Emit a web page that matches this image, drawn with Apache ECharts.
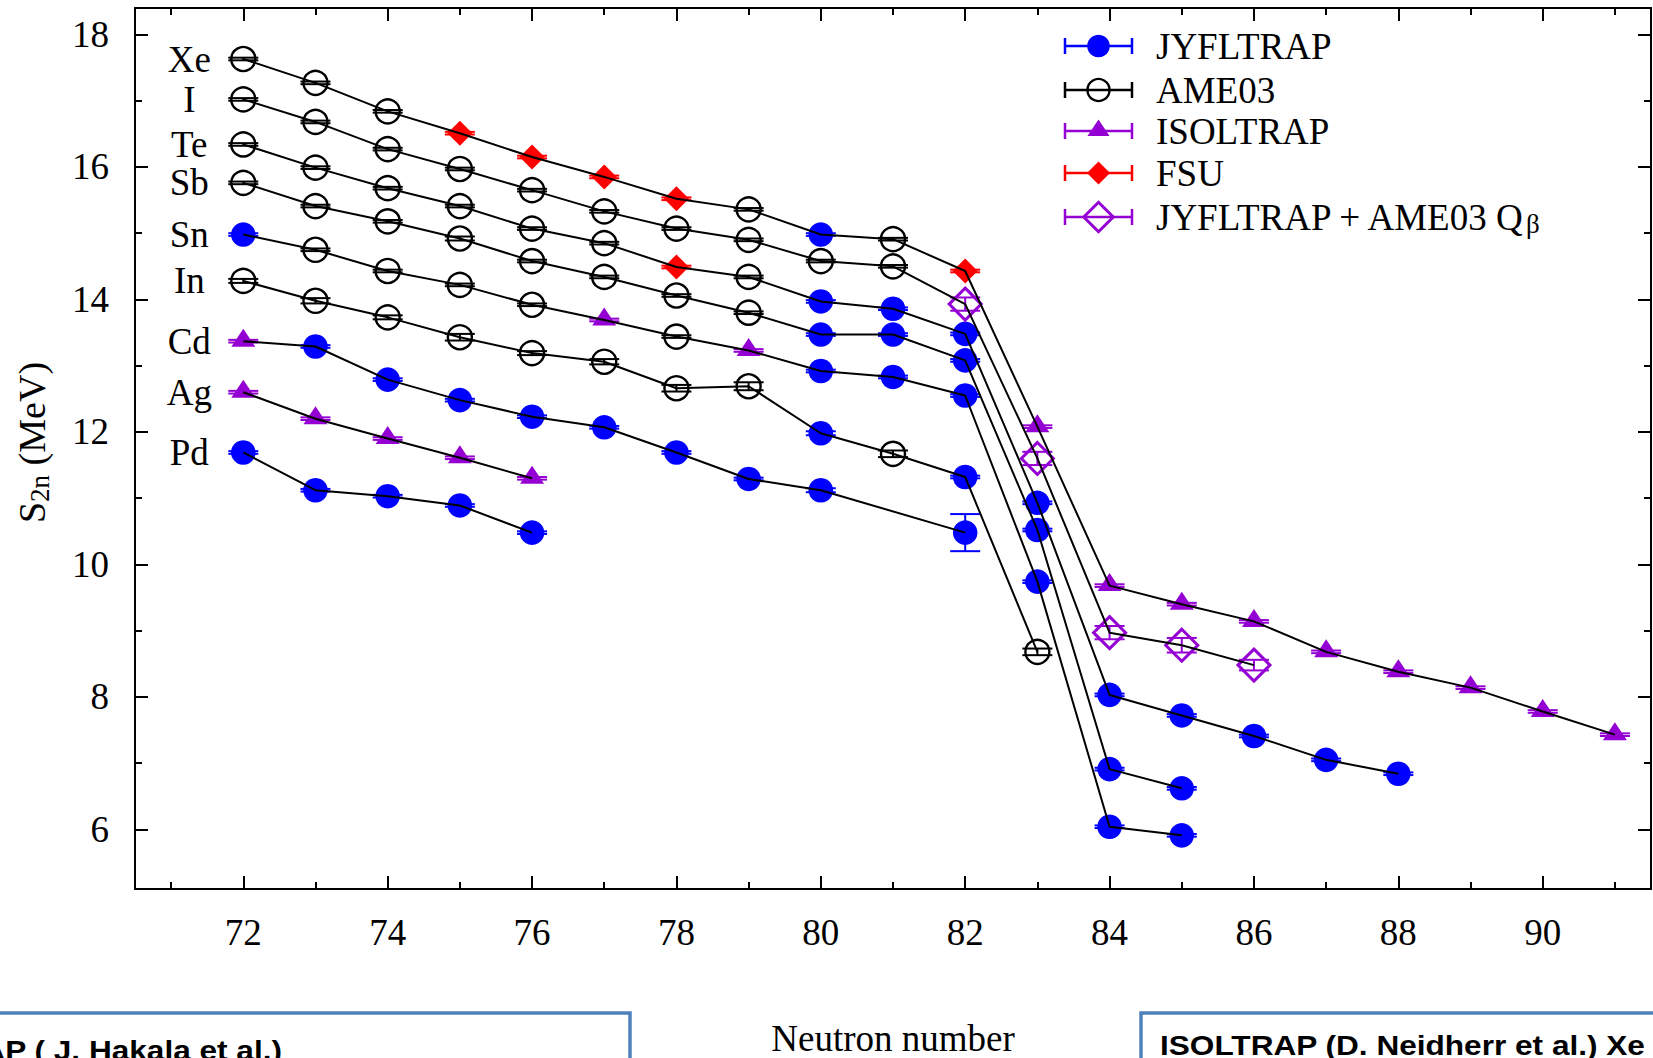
<!DOCTYPE html>
<html><head><meta charset="utf-8">
<script src="https://cdn.jsdelivr.net/npm/echarts@6/dist/echarts.min.js"></script>
<style>html,body{margin:0;padding:0;background:#fff;overflow:hidden}#c{width:1653px;height:1058px;}</style>
</head><body><div id="c"></div>
<script>
// ---- Data (S2n in MeV vs neutron number) ----
// source codes: J = JYFLTRAP, A = AME03, I = ISOLTRAP, F = FSU, Q = JYFLTRAP + AME03 Qβ
const elements = ['Xe','I','Te','Sb','Sn','In','Cd','Ag','Pd'];

const Xe_N   = [72,73,74,75,76,77,78,79,80,81,82,83,84,85,86,87,88,89,90,91];
const Xe_S2n = [17.63,17.27,16.84,16.51,16.15,15.85,15.52,15.36,14.98,14.91,14.43,12.08,9.68,9.40,9.14,8.68,8.38,8.14,7.78,7.43];
const Xe_err = [0.02,0.02,0.02,0.02,0.02,0.02,0.02,0.02,0.02,0.02,0.02,0.02,0.02,0.02,0.02,0.02,0.02,0.02,0.02,0.02];
const Xe_src = ['A','A','A','F','F','F','F','A','J','A','F','I','I','I','I','I','I','I','I','I'];

const I_N   = [72,73,74,75,76,77,78,79,80,81,82,83,84,85,86];
const I_S2n = [17.02,16.68,16.27,15.97,15.65,15.33,15.07,14.90,14.58,14.50,13.93,11.60,8.97,8.78,8.48];
const I_err = [0.02,0.02,0.02,0.02,0.02,0.02,0.02,0.02,0.02,0.02,0.10,0.10,0.10,0.11,0.08];
const I_src = ['A','A','A','A','A','A','A','A','A','A','Q','Q','Q','Q','Q'];

const Te_N   = [72,73,74,75,76,77,78,79,80,81,82,83,84,85,86,87,88];
const Te_S2n = [16.34,15.99,15.68,15.41,15.07,14.85,14.49,14.34,13.97,13.86,13.48,10.93,8.03,7.72,7.41,7.05,6.84];
const Te_err = [0.02,0.02,0.02,0.02,0.02,0.02,0.02,0.02,0.02,0.02,0.02,0.02,0.02,0.02,0.02,0.02,0.02];
const Te_src = ['A','A','A','A','A','A','F','A','J','J','J','J','J','J','J','J','J'];

const Sb_N   = [72,73,74,75,76,77,78,79,80,81,82,83,84,85];
const Sb_S2n = [15.76,15.41,15.18,14.92,14.58,14.34,14.06,13.80,13.47,13.47,13.08,10.52,6.91,6.62];
const Sb_err = [0.02,0.02,0.02,0.03,0.02,0.02,0.02,0.02,0.02,0.02,0.02,0.02,0.02,0.02];
const Sb_src = ['A','A','A','A','A','A','A','A','J','J','J','J','J','J'];

const Sn_N   = [72,73,74,75,76,77,78,79,80,81,82,83,84,85];
const Sn_S2n = [14.98,14.75,14.43,14.22,13.92,13.69,13.44,13.23,12.92,12.83,12.55,9.74,6.04,5.91];
const Sn_err = [0.02,0.02,0.02,0.02,0.02,0.02,0.02,0.02,0.02,0.02,0.02,0.02,0.02,0.02];
const Sn_src = ['J','A','A','A','A','I','A','I','J','J','J','J','J','J'];

const In_N   = [72,73,74,75,76,77,78,79,80,81,82,83];
const In_S2n = [14.28,13.98,13.73,13.43,13.19,13.06,12.66,12.69,11.98,11.67,11.32,8.68];
const In_err = [0.03,0.04,0.03,0.05,0.03,0.04,0.05,0.06,0.03,0.05,0.02,0.05];
const In_src = ['A','A','A','A','A','A','A','A','J','A','J','A'];

const Cd_N   = [72,73,74,75,76,77,78,79,80,82];
const Cd_S2n = [13.37,13.29,12.79,12.48,12.23,12.07,11.69,11.29,11.12,10.48];
const Cd_err = [0.02,0.02,0.02,0.02,0.02,0.02,0.02,0.02,0.03,0.28];
const Cd_src = ['I','J','J','J','J','J','J','J','J','J'];

const Ag_N   = [72,73,74,75,76];
const Ag_S2n = [12.60,12.20,11.90,11.61,11.30];
const Ag_err = [0.02,0.02,0.02,0.02,0.02];
const Ag_src = ['I','I','I','I','I'];

const Pd_N   = [72,73,74,75,76];
const Pd_S2n = [11.69,11.12,11.03,10.89,10.48];
const Pd_err = [0.02,0.02,0.02,0.02,0.02];
const Pd_src = ['J','J','J','J','J'];

const xTicksMajor = [72,74,76,78,80,82,84,86,88,90];
const xTicksMinor = [71,73,75,77,79,81,83,85,87,89,91];
const yTicksMajor = [6,8,10,12,14,16,18];
const yTicksMinor = [7,9,11,13,15,17];
const X_MIN = 70.5, X_MAX = 91.5, Y_MIN = 5.1, Y_MAX = 18.4;

const sources = ['J','A','I','F','Q'];
const sourceNames = {J:'JYFLTRAP', A:'AME03', I:'ISOLTRAP', F:'FSU', Q:'JYFLTRAP + AME03 Qβ'};
// ---- end data ----

const chains = [
  {name:'Xe', N:Xe_N, S:Xe_S2n, E:Xe_err, src:Xe_src},
  {name:'I',  N:I_N,  S:I_S2n,  E:I_err,  src:I_src},
  {name:'Te', N:Te_N, S:Te_S2n, E:Te_err, src:Te_src},
  {name:'Sb', N:Sb_N, S:Sb_S2n, E:Sb_err, src:Sb_src},
  {name:'Sn', N:Sn_N, S:Sn_S2n, E:Sn_err, src:Sn_src},
  {name:'In', N:In_N, S:In_S2n, E:In_err, src:In_src},
  {name:'Cd', N:Cd_N, S:Cd_S2n, E:Cd_err, src:Cd_src},
  {name:'Ag', N:Ag_N, S:Ag_S2n, E:Ag_err, src:Ag_src},
  {name:'Pd', N:Pd_N, S:Pd_S2n, E:Pd_err, src:Pd_src}
];

const FONT = 'Liberation Serif';
const FS = 37;
const COLORS = {J:'#0000ff', A:'#000000', I:'#9400d3', F:'#ff0000', Q:'#9400d3'};
const CAP = 15;

function markerEls(src, cx, cy, scale) {
  const s = scale || 1;
  const c = COLORS[src];
  if (src === 'J') return [{type:'circle', shape:{cx:cx, cy:cy, r:12.3*s}, style:{fill:c}}];
  if (src === 'A') return [{type:'circle', shape:{cx:cx, cy:cy, r:12*s}, style:{fill:'none', stroke:c, lineWidth:2.4}}];
  if (src === 'I') return [{type:'polygon', shape:{points:[[cx,cy-12.5*s],[cx-12*s,cy+5.5*s],[cx+12*s,cy+5.5*s]]}, style:{fill:c}}];
  if (src === 'F') return [{type:'polygon', shape:{points:[[cx,cy-12.5*s],[cx+12.5*s,cy],[cx,cy+12.5*s],[cx-12.5*s,cy]]}, style:{fill:c}}];
  return [{type:'polygon', shape:{points:[[cx,cy-16*s],[cx+16*s,cy],[cx,cy+16*s],[cx-16*s,cy]]}, style:{fill:'none', stroke:c, lineWidth:3}}];
}

function makeRender(src) {
  return function (params, api) {
    const x = api.value(0), y = api.value(1), e = api.value(2);
    const p = api.coord([x, y]);
    const pt = api.coord([x, y + e]);
    const pb = api.coord([x, y - e]);
    const c = COLORS[src];
    const ls = {stroke:c, lineWidth:2};
    const children = [
      {type:'line', shape:{x1:p[0], y1:pt[1], x2:p[0], y2:pb[1]}, style:ls},
      {type:'line', shape:{x1:p[0]-CAP, y1:pt[1], x2:p[0]+CAP, y2:pt[1]}, style:ls},
      {type:'line', shape:{x1:p[0]-CAP, y1:pb[1], x2:p[0]+CAP, y2:pb[1]}, style:ls}
    ].concat(markerEls(src, p[0], p[1]));
    return {type:'group', children:children};
  };
}

const series = [];
sources.forEach(function (src) {
  const data = [];
  chains.forEach(function (ch) {
    ch.N.forEach(function (n, i) { if (ch.src[i] === src) data.push([n, ch.S[i], ch.E[i]]); });
  });
  series.push({type:'custom', name:sourceNames[src], data:data, encode:{x:0, y:1},
    renderItem:makeRender(src), z:3, silent:true, clip:false});
});
chains.forEach(function (ch) {
  series.push({type:'line', name:ch.name, data:ch.N.map(function (n, i) { return [n, ch.S[i]]; }),
    symbol:'none', showSymbol:false, lineStyle:{color:'#000', width:2}, z:5, silent:true});
});
series.push({type:'custom', name:'labels', data:chains.map(function (ch) { return [ch.N[0], ch.S[0]]; }),
  encode:{x:0, y:1}, z:6, silent:true, clip:false,
  renderItem:function (params, api) {
    const p = api.coord([api.value(0), api.value(1)]);
    return {type:'text', x:p[0]-54, y:p[1], style:{text:elements[params.dataIndex], fontFamily:FONT, fontSize:FS,
      fill:'#000', align:'center', verticalAlign:'middle', textAlign:'center', textVerticalAlign:'middle'}};
  }});

function xAxisDef(pos, ticks, major, labels) {
  const a = {type:'value', min:X_MIN, max:X_MAX, position:pos, gridIndex:0,
    axisLine:{show:major, onZero:false, lineStyle:{color:'#000', width:2}},
    axisTick:{show:true, inside:true, length:major?13:7, customValues:ticks, lineStyle:{color:'#000', width:2}},
    axisLabel:{show:labels, customValues:ticks, margin:25, fontFamily:FONT, fontSize:FS, color:'#000'},
    splitLine:{show:false}, minorTick:{show:false}};
  if (labels) {
    a.name = 'Neutron number'; a.nameLocation = 'middle'; a.nameGap = 131;
    a.nameTextStyle = {fontFamily:FONT, fontSize:FS, color:'#000', lineHeight:37};
  }
  return a;
}
function yAxisDef(pos, ticks, major, labels) {
  const a = {type:'value', min:Y_MIN, max:Y_MAX, position:pos, gridIndex:0,
    axisLine:{show:major, onZero:false, lineStyle:{color:'#000', width:2}},
    axisTick:{show:true, inside:true, length:major?13:7, customValues:ticks, lineStyle:{color:'#000', width:2}},
    axisLabel:{show:labels, customValues:ticks, margin:26, fontFamily:FONT, fontSize:FS, color:'#000'},
    splitLine:{show:false}, minorTick:{show:false}};
  if (labels) {
    a.name = '{a|S}{s|2n}{a| (MeV)}'; a.nameLocation = 'middle'; a.nameGap = 82; a.nameRotate = 90;
    a.nameTextStyle = {fontFamily:FONT, fontSize:FS, color:'#000', padding:[0,0,0,12], rich:{
      a:{fontFamily:FONT, fontSize:38, color:'#000', lineHeight:42},
      s:{fontFamily:FONT, fontSize:27, color:'#000', lineHeight:27, verticalAlign:'bottom', padding:[22,0,0,0]}}};
  }
  return a;
}

// legend built from graphic elements
const legendY = [46, 90, 131, 173, 217];
const legendEls = [];
sources.forEach(function (src, i) {
  const y = legendY[i], c = COLORS[src], ls = {stroke:c, lineWidth:2.5};
  legendEls.push({type:'line', shape:{x1:1065, y1:y, x2:1132, y2:y}, style:ls});
  legendEls.push({type:'line', shape:{x1:1065, y1:y-8, x2:1065, y2:y+8}, style:ls});
  legendEls.push({type:'line', shape:{x1:1132, y1:y-8, x2:1132, y2:y+8}, style:ls});
  markerEls(src, 1098.5, y, 0.92).forEach(function (m) { legendEls.push(m); });
  const txt = src === 'Q' ? '{a|JYFLTRAP + AME03 Q}{s|β}' : '{a|' + sourceNames[src] + '}';
  legendEls.push({type:'text', x:1156, y:y, style:{text:txt, fill:'#000', align:'left', verticalAlign:'middle',
    rich:{a:{fontFamily:FONT, fontSize:FS, fill:'#000', lineHeight:41},
          s:{fontFamily:FONT, fontSize:27, fill:'#000', lineHeight:27, verticalAlign:'bottom', padding:[22,0,0,0]}}}});
});

// overlay note boxes at the bottom
const boxEls = [
  {type:'rect', shape:{x:-10, y:1013, width:640, height:80}, style:{fill:'#fff', stroke:'#4f81bd', lineWidth:3.5}},
  {type:'text', x:282, y:1050, scaleX:1.17, originX:0, originY:0,
    style:{text:'JYFLTRAP ( J. Hakala et al.)', fontFamily:'Liberation Sans', fontWeight:'bold', fontSize:27, fill:'#000',
      align:'right', verticalAlign:'middle'}},
  {type:'rect', shape:{x:1141, y:1013, width:530, height:80}, style:{fill:'#fff', stroke:'#4f81bd', lineWidth:3.5}},
  {type:'text', x:1160, y:1045, scaleX:1.17, originX:0, originY:0,
    style:{text:'ISOLTRAP (D. Neidherr et al.) Xe', fontFamily:'Liberation Sans', fontWeight:'bold', fontSize:27, fill:'#000',
      align:'left', verticalAlign:'middle'}}
];

const option = {
  animation:false,
  backgroundColor:'#fff',
  grid:{left:135, right:2, top:8, bottom:169, containLabel:false, outerBoundsMode:'none'},
  xAxis:[xAxisDef('bottom', xTicksMajor, true, true), xAxisDef('bottom', xTicksMinor, false, false),
         xAxisDef('top', xTicksMajor, true, false), xAxisDef('top', xTicksMinor, false, false)],
  yAxis:[yAxisDef('left', yTicksMajor, true, true), yAxisDef('left', yTicksMinor, false, false),
         yAxisDef('right', yTicksMajor, true, false), yAxisDef('right', yTicksMinor, false, false)],
  series:series,
  graphic:legendEls.concat(boxEls)
};

const chart = echarts.init(document.getElementById('c'), null, {renderer:'svg', width:1653, height:1058});
chart.setOption(option);
</script>
</body></html>
